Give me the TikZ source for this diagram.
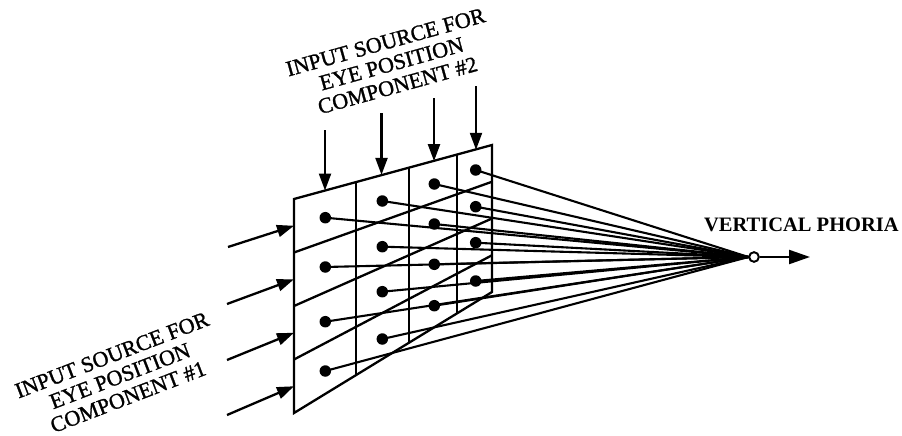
\documentclass[tikz,border=0pt]{standalone}
\usepackage{fontspec}
\setmainfont{Liberation Serif}
\usetikzlibrary{arrows.meta,calc}
\begin{document}
\begin{tikzpicture}[x=1pt,y=-1pt, line width=2.3pt, line join=miter,
  dotnode/.style={circle,fill,inner sep=0pt,minimum size=11.5pt},
  inarrow/.style={-{Triangle[length=17pt,width=12pt]}},
  outarrow/.style={-{Triangle[length=21pt,width=14pt]}},
  txt/.style={align=center,inner sep=0pt,font=\fontsize{22}{22.5}\selectfont\addfontfeatures{FakeBold=1.2}},
  wire/.style={line width=2.1pt},
]
\useasboundingbox (0,0) rectangle (902,436);
% panel corners
\coordinate (TL) at (294,199);
\coordinate (TR) at (492,145);
\coordinate (BR) at (492,292);
\coordinate (BL) at (294,413);
% panel outline and grid
\draw (TL) -- (TR) -- (BR) -- (BL) -- cycle;
\foreach \u in {0.313,0.581,0.823}
  \draw ($(TL)!\u!(TR)$) -- ($(BL)!\u!(BR)$);
\foreach \v in {0.25,0.5,0.75}
  \draw ($(TL)!\v!(BL)$) -- ($(TR)!\v!(BR)$);
% output node
\node[circle,draw,fill=white,inner sep=0pt,minimum size=9.5pt,line width=1.8pt] (out) at (754,257) {};
\coordinate (outend) at (810,257);
% dots
\node[dotnode] (d11) at (325.3,217.7) {};
\node[dotnode] (d12) at (325.3,267) {};
\node[dotnode] (d13) at (325.3,321.7) {};
\node[dotnode] (d14) at (325.3,371) {};
\node[dotnode] (d21) at (382.3,201) {};
\node[dotnode] (d22) at (382.3,246.7) {};
\node[dotnode] (d23) at (382.3,291.7) {};
\node[dotnode] (d24) at (382.3,339) {};
\node[dotnode] (d31) at (434.3,184) {};
\node[dotnode] (d32) at (434.3,224) {};
\node[dotnode] (d33) at (434.3,264.3) {};
\node[dotnode] (d34) at (434.3,305.7) {};
\node[dotnode] (d41) at (475.7,170) {};
\node[dotnode] (d42) at (475.7,206.7) {};
\node[dotnode] (d43) at (475.7,242.7) {};
\node[dotnode] (d44) at (475.7,281) {};
% wires to output
\foreach \c in {1,2,3,4}
  \foreach \r in {1,2,3,4}
    \draw[wire] (d\c\r.center) -- (out.west);
% redraw output circle on top
\node[circle,draw,fill=white,inner sep=0pt,minimum size=9.5pt,line width=1.8pt] at (out) {};
\draw[outarrow] (out.east) -- (outend);
% top input arrows
\coordinate (ts1) at (325,130);
\coordinate (ts2) at (381.5,113);
\coordinate (ts3) at (434,98);
\coordinate (ts4) at (476,86);
\coordinate (tt1) at ($(TL)!0.157!(TR)$);
\coordinate (tt2) at ($(TL)!0.4470!(TR)$);
\coordinate (tt3) at ($(TL)!0.702!(TR)$);
\coordinate (tt4) at ($(TL)!0.912!(TR)$);
\foreach \i in {1,2,3,4}
  \draw[inarrow] (ts\i) -- (ts\i |- tt\i);
% left input arrows
\coordinate (ls1) at (228,247);
\coordinate (ls2) at (227,304);
\coordinate (ls3) at (227,360);
\coordinate (ls4) at (227,415);
\coordinate (lt1) at ($(TL)!0.125!(BL)$);
\coordinate (lt2) at ($(TL)!0.375!(BL)$);
\coordinate (lt3) at ($(TL)!0.625!(BL)$);
\coordinate (lt4) at ($(TL)!0.875!(BL)$);
\foreach \i in {1,2,3,4}
  \draw[inarrow] (ls\i) -- (lt\i);
% labels
\node[txt,rotate=15.5] (top) at (391.6,63.8) {INPUT SOURCE FOR\\EYE POSITION\\COMPONENT \#2};
\node[txt,rotate=21] (bot) at (120,376) {INPUT SOURCE FOR\\EYE POSITION\\COMPONENT \#1};
\node[anchor=base west,inner sep=0pt,font=\fontsize{20.5}{24}\selectfont\bfseries] (vp) at (703,231.5) {VERTICAL PHORIA};
\end{tikzpicture}
\end{document}
